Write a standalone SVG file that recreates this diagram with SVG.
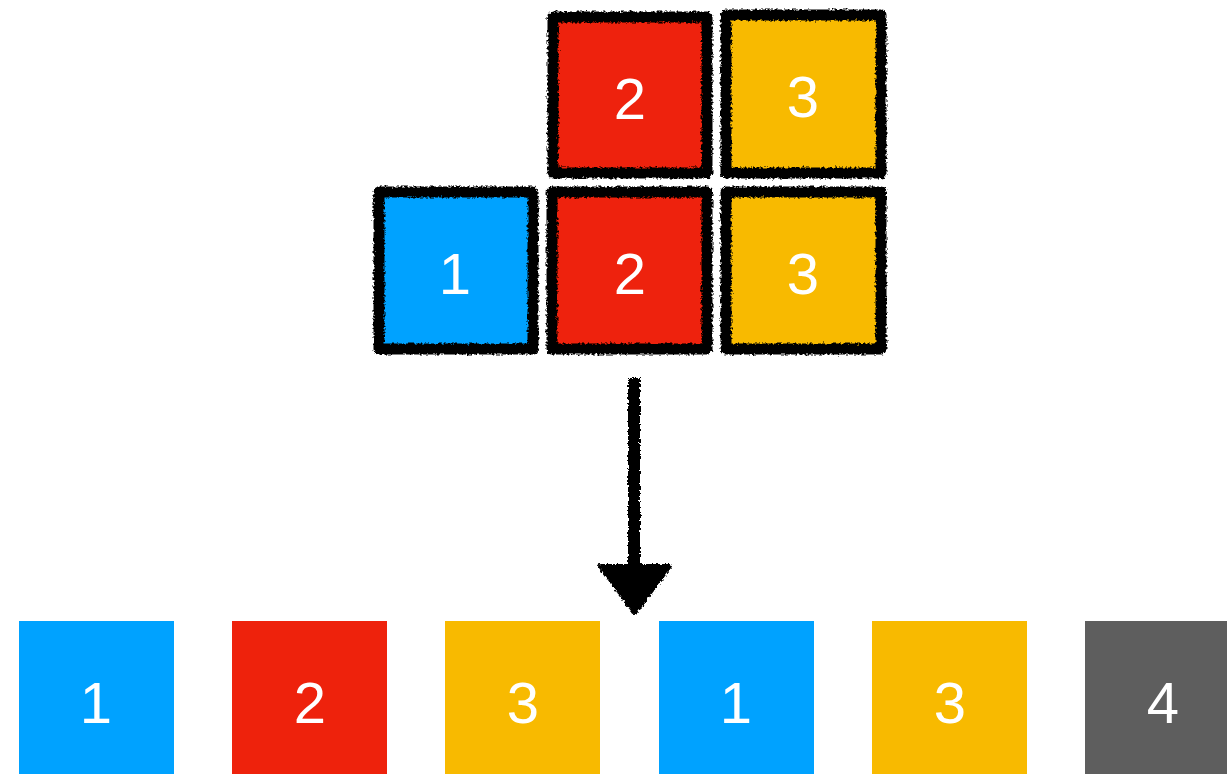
<svg xmlns="http://www.w3.org/2000/svg" width="1227" height="774" viewBox="0 0 1227 774">
<defs>
<filter id="rough" x="-10%" y="-10%" width="120%" height="120%">
<feTurbulence type="fractalNoise" baseFrequency="0.4" numOctaves="2" seed="3" result="n"/>
<feDisplacementMap in="SourceGraphic" in2="n" scale="5" xChannelSelector="R" yChannelSelector="G"/>
</filter>
<style>
.lbl{font-family:"Liberation Sans",Arial,sans-serif;font-size:58px;fill:#fff;text-anchor:middle}
.sk{stroke:#000;stroke-width:11;stroke-linejoin:round}
.blue{fill:#00A2FF}.red{fill:#EE220C}.yel{fill:#F8BA00}.gray{fill:#5E5E5E}
</style>
</defs>
<g id="top-2">
<rect class="sk red" x="553" y="17" width="154" height="156" filter="url(#rough)"/>
<text class="lbl" x="630" y="119">2</text>
</g>
<g id="top-3">
<rect class="sk yel" x="726" y="15" width="155" height="158" filter="url(#rough)"/>
<text class="lbl" x="803" y="117">3</text>
</g>
<g id="mid-1">
<rect class="sk blue" x="379" y="192" width="154" height="157" filter="url(#rough)"/>
<text class="lbl" x="455" y="294">1</text>
</g>
<g id="mid-2">
<rect class="sk red" x="552" y="192" width="155" height="157" filter="url(#rough)"/>
<text class="lbl" x="630" y="294">2</text>
</g>
<g id="mid-3">
<rect class="sk yel" x="726" y="192" width="155" height="157" filter="url(#rough)"/>
<text class="lbl" x="803" y="294">3</text>
</g>
<g id="connectors" filter="url(#rough)">
<line x1="634" y1="378" x2="634" y2="570" stroke="#000" stroke-width="12"/>
<polygon points="600,566 670,566 635,613" fill="#000" stroke="#000" stroke-width="4" stroke-linejoin="round"/>
</g>
<g id="b1"><rect class="blue" x="19" y="621" width="155" height="153"/><text class="lbl" x="96" y="723">1</text></g>
<g id="b2"><rect class="red" x="232" y="621" width="155" height="153"/><text class="lbl" x="310" y="723">2</text></g>
<g id="b3"><rect class="yel" x="445" y="621" width="155" height="153"/><text class="lbl" x="523" y="723">3</text></g>
<g id="b4"><rect class="blue" x="659" y="621" width="155" height="153"/><text class="lbl" x="736" y="723">1</text></g>
<g id="b5"><rect class="yel" x="872" y="621" width="155" height="153"/><text class="lbl" x="950" y="723">3</text></g>
<g id="b6"><rect class="gray" x="1085" y="621" width="155" height="153"/><text class="lbl" x="1163" y="723">4</text></g>
</svg>
